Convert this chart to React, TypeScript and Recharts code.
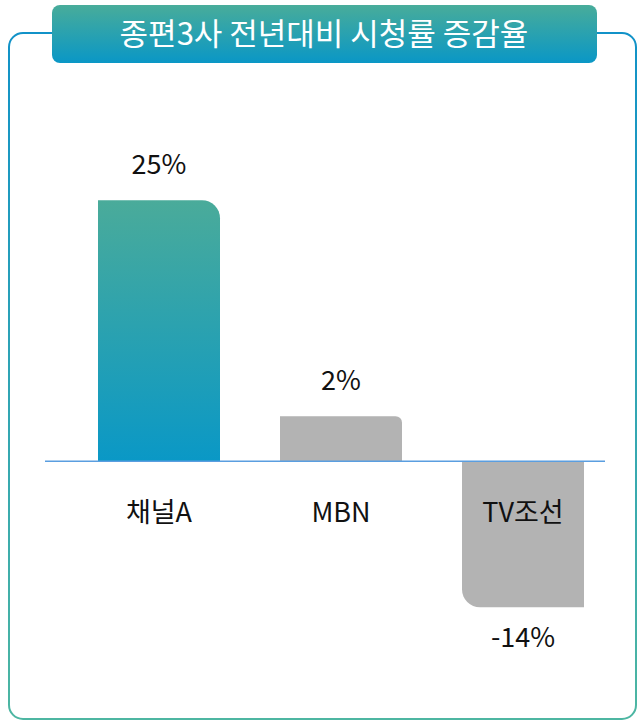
import React from "react";
import { BarChart, Bar, XAxis, YAxis, Cell, LabelList, ReferenceLine } from "recharts";

const categories = ["채널A", "MBN", "TV조선"];
const changeRates = [25, 2, -14];
const title = "종편3사 전년대비 시청률 증감율";

const data = categories.map((name, i) => ({ name, rate: changeRates[i] }));

const FONT = '"Noto Sans CJK KR", "Noto Sans", sans-serif';

const RoundBar = (props: any) => {
  const { x, y, width, height, fill, payload } = props;
  const top = Math.min(y, y + height);
  const h = Math.abs(height);
  const r = Math.min(18, h / 7);
  const right = x + width;
  const bottom = top + h;
  const negative = (payload?.rate ?? props.value) < 0;
  const d = negative
    ? `M${x},${top}H${right}V${bottom}H${x + r}A${r},${r} 0 0 1 ${x},${bottom - r}Z`
    : `M${x},${top}H${right - r}A${r},${r} 0 0 1 ${right},${top + r}V${bottom}H${x}Z`;
  return <path d={d} fill={fill} />;
};

const valueLabel = (props: any) => {
  const { x, y, width, height, value } = props;
  const top = Math.min(y, y + height);
  const bottom = Math.max(y, y + height);
  const ty = value >= 0 ? top - 26 : bottom + 40;
  return (
    <text x={x + width / 2} y={ty} textAnchor="middle" fontSize={27} fill="#111" fontFamily={FONT}>
      {`${value}%`}
    </text>
  );
};

const nameLabel = (props: any) => {
  const { x, y, width, height, value, index } = props;
  const top = Math.min(y, y + height);
  const bottom = Math.max(y, y + height);
  const zero = changeRates[index] >= 0 ? bottom : top;
  return (
    <text x={x + width / 2} y={zero + 61} textAnchor="middle" fontSize={27} fill="#111" fontFamily={FONT}>
      {value}
    </text>
  );
};

const App = () => {
  return (
    <div style={{ position: "absolute", left: 0, top: 0, width: 638, height: 721, background: "#fff", fontFamily: FONT }}>
      <svg width={638} height={721} style={{ position: "absolute", left: 0, top: 0 }}>
        <defs>
          <linearGradient id="borderGrad" x1="0" y1="0" x2="0" y2="1">
            <stop offset="0%" stopColor="#1192c8" />
            <stop offset="100%" stopColor="#4db6a2" />
          </linearGradient>
          <linearGradient id="titleGrad" x1="0" y1="0" x2="0" y2="1">
            <stop offset="0%" stopColor="#48ac9a" />
            <stop offset="100%" stopColor="#0a97c6" />
          </linearGradient>
        </defs>
        <rect x={9} y={33} width={627} height={686} rx={14} fill="none" stroke="url(#borderGrad)" strokeWidth={2} />
        <rect x={52} y={5} width={545} height={58} rx={8} fill="url(#titleGrad)" />
        <text x={324} y={45} textAnchor="middle" fontSize={31} fill="#fff" fontFamily={FONT} fontWeight={400}>
          {title}
        </text>
      </svg>
      <div style={{ position: "absolute", left: 0, top: 0 }}>
        <BarChart width={638} height={721} data={data} margin={{ top: 148, bottom: 51, left: 68, right: 24 }} barSize={122}>
          <defs>
            <linearGradient id="barGrad" x1="0" y1="0" x2="0" y2="1">
              <stop offset="0%" stopColor="#4aab9a" />
              <stop offset="100%" stopColor="#0a98c6" />
            </linearGradient>
          </defs>
          <XAxis dataKey="name" hide />
          <YAxis domain={[-20, 30]} hide />
          <ReferenceLine
            y={0}
            shape={(p: any) => (
              <line x1={p.x1 - 23} y1={p.y1} x2={p.x2 - 9} y2={p.y2} stroke="#5a9ee0" strokeWidth={1.5} />
            )}
          />
          <Bar dataKey="rate" shape={RoundBar} minPointSize={45} isAnimationActive={false}>
            {data.map((d, i) => (
              <Cell key={d.name} fill={i === 0 ? "url(#barGrad)" : "#b3b3b3"} />
            ))}
            <LabelList dataKey="rate" content={valueLabel} />
            <LabelList dataKey="name" content={nameLabel} />
          </Bar>
        </BarChart>
      </div>
    </div>
  );
};

export default App;
